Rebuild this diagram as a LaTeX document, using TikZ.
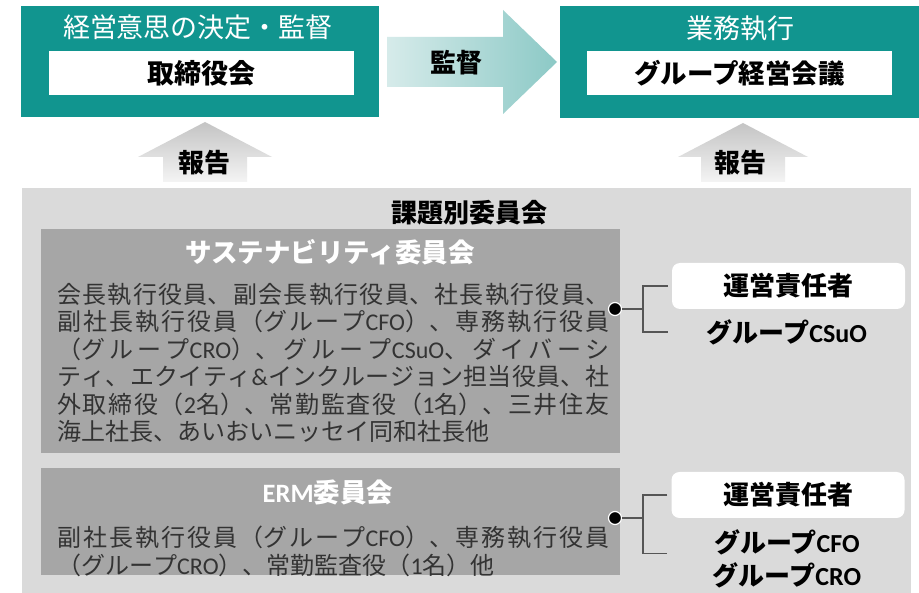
\documentclass[tikz,border=0pt]{standalone}
\usepackage{fontspec}
\setmainfont{Noto Sans CJK JP}
\newfontfamily\lat{Carlito}
\usetikzlibrary{calc}
\definecolor{tealA}{HTML}{11958F}
\definecolor{bgGray}{HTML}{DADADA}
\definecolor{boxGray}{HTML}{A6A6A6}
\definecolor{txtGray}{HTML}{333333}
\definecolor{lineGray}{HTML}{555555}
\definecolor{arrowA}{HTML}{D6EBEA}
\definecolor{arrowB}{HTML}{8CC9C6}
\definecolor{repA}{HTML}{C4C4C4}
\definecolor{repB}{HTML}{F4F4F4}
\XeTeXlinebreaklocale "ja"
\XeTeXlinebreakskip=0pt plus 1fil
\newcommand{\fsz}[1]{\fontsize{#1}{#1}\selectfont}
\begin{document}
\begin{tikzpicture}[x=1pt,y=-1pt,
  panel/.style={fill=tealA, inner sep=0, outer sep=0},
  headtxt/.style={text=white, inner sep=0, font=\fsz{27}},
  innerbox/.style={fill=white, inner sep=0, font=\bfseries\fsz{27}, text=black},
  lbl/.style={inner sep=0, font=\bfseries\fsz{26}, text=black},
  cbox/.style={fill=boxGray, inner sep=0},
  ctitle/.style={inner sep=0, text=white, font=\bfseries\fsz{26.5}},
  bodytxt/.style={inner sep=0, text width=552pt, text=txtGray, font=\fontsize{24}{27.5}\selectfont},
  rbox/.style={fill=white, rounded corners=8pt, minimum width=233pt, minimum height=46pt, inner sep=0, font=\bfseries\fsz{26}},
  conn/.style={draw=lineGray, line width=1.2pt},
  dotnode/.style={circle, fill=black, draw=white, line width=1.2pt, minimum size=13pt, inner sep=0}
]
\useasboundingbox (0,0) rectangle (919,593);
\fill[white] (0,0) rectangle (919,593);

% top panels
\node[panel, minimum width=358, minimum height=111] (lp) at (200,61.5) {};
\node[headtxt] (lt) at (198,27) {経営意思の決定・監督};
\node[innerbox, minimum width=305, minimum height=44] (lw) at (201.5,73.5) {取締役会};

\node[panel, minimum width=359, minimum height=112] (rp) at (739.5,62) {};
\node[headtxt] (rt) at (740,28) {業務執行};
\node[innerbox, minimum width=305, minimum height=44, font=\bfseries\fsz{26.5}] (rw) at (739.5,73) {グループ経営会議};

% supervision arrow
\shade[left color=arrowA, right color=arrowB]
  (387,37) -- (503,37) -- (503,10) -- (557,62) -- (503,114) -- (503,87) -- (387,87) -- cycle;
\node[lbl] (mon) at (456,63) {監督};

% report arrows
\shade[top color=repA, bottom color=repB]
  (205,122) -- (272,157) -- (247,157) -- (247,182) -- (163,182) -- (163,157) -- (138,157) -- cycle;
\node[lbl] (rep1) at (204,163) {報告};
\shade[top color=repA, bottom color=repB]
  (743,123) -- (808,157) -- (785,157) -- (785,182) -- (701,182) -- (701,157) -- (678,157) -- cycle;
\node[lbl] (rep2) at (740,163) {報告};

% committees area
\fill[bgGray] (22,188) rectangle (911,593);
\node[lbl] (kt) at (469,213) {課題別委員会};

\node[cbox, minimum width=579, minimum height=224] (sb) at (330.5,341) {};
\node[ctitle] (st) at (330,252) {サステナビリティ委員会};
\node[bodytxt, anchor=north west] (sbody) at (57,283) {\parfillskip=0pt plus 1fill
会長執行役員、副会長執行役員、社長執行役員、\linebreak
副社長執行役員（グループ{\lat CFO}）、専務執行役員\linebreak
（グループ{\lat CRO}）、グループ{\lat CSuO}、ダイバーシ\linebreak
ティ、エクイティ{\lat\&}インクルージョン担当役員、社\linebreak
外取締役（{\lat 2}名）、常勤監査役（{\lat 1}名）、三井住友\linebreak
海上社長、あいおいニッセイ同和社長他\par};

\node[cbox, minimum width=579, minimum height=107] (eb) at (330.5,521.5) {};
\node[ctitle] (et) at (328,492) {{\lat ERM}委員会};
\node[bodytxt, anchor=north west] (ebody) at (57,526) {\parfillskip=0pt plus 1fill
副社長執行役員（グループ{\lat CFO}）、専務執行役員\linebreak
（グループ{\lat CRO}）、常勤監査役（{\lat 1}名）他\par};

% responsible persons
\node[rbox] (r1) at (788.5,286) {運営責任者};
\node[lbl] (l1) at (787,332) {グループ{\lat CSuO}};
\node[rbox] (r2) at (788,495) {運営責任者};
\node[lbl] (l2) at (787,542) {グループ{\lat CFO}};
\node[lbl] (l3) at (787,575) {グループ{\lat CRO}};

% connectors
\node[dotnode] (d1) at (615,309) {};
\coordinate (k1) at (643,309);
\coordinate (e1a) at ([xshift=-4pt]r1.west);
\coordinate (e1b) at (e1a |- l1);
\draw[conn] (d1) -- (k1);
\draw[conn] (e1a) -- (k1 |- e1a) -- (k1 |- e1b) -- (e1b);

\node[dotnode] (d2) at (615,518) {};
\coordinate (k2) at (643,518);
\coordinate (e2a) at ([xshift=-4pt]r2.west);
\coordinate (m23) at ($(l2)!0.35!(l3)$);
\coordinate (e2b) at (e2a |- m23);
\draw[conn] (d2) -- (k2);
\draw[conn] (e2a) -- (k2 |- e2a) -- (k2 |- e2b) -- (e2b);
\end{tikzpicture}
\end{document}
